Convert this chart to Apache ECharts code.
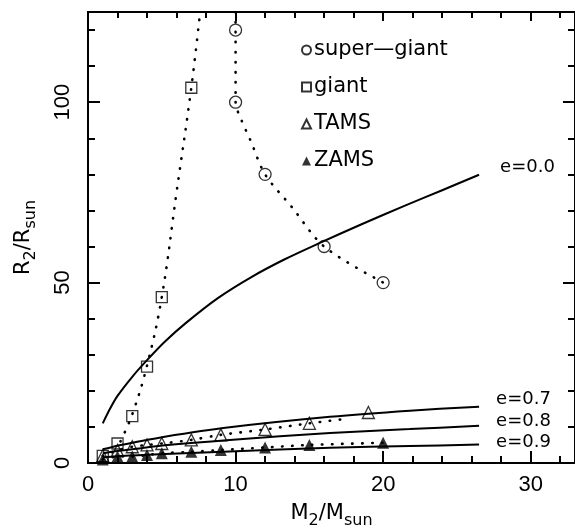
<!DOCTYPE html>
<html>
<head>
<meta charset="utf-8">
<script src="https://cdn.jsdelivr.net/npm/echarts@6/dist/echarts.min.js"></script>
<style>
html, body { margin: 0; padding: 0; background: #fff; }
#chart { width: 575px; height: 529px; }
</style>
</head>
<body>
<div id="chart"></div>
<script>
// observed stars [M2, R2]
var superGiant = [[10, 120], [10, 100], [12, 80], [16, 60], [20, 50]];
var giant = [[1, 2], [2, 5.4], [3, 13], [4, 26.7], [5, 46], [7, 104]];
var tams = [[1, 2], [2, 3.5], [3, 4.5], [4, 5], [5, 5.4], [7, 6.4], [9, 7.8], [12, 9.3], [15, 11], [19, 14]];
var zams = [[1, 1], [2, 1.8], [3, 1.8], [4, 2.2], [5, 2.7], [7, 3.1], [9, 3.6], [12, 4.3], [15, 5], [20, 5.6]];

// dotted guide curves
var superGiantFit = [[10, 125], [10, 120], [10, 100], [10.4, 95], [11, 89.5], [12, 80], [13.8, 71], [16, 60], [20, 50]];
var giantFit = [[2.2, 6], [3, 13.5], [4, 27], [5, 46], [6, 75], [7, 104], [7.6, 125]];
var tamsFit = [[1, 2], [2, 3.5], [3, 4.5], [4, 5], [5, 5.4], [7, 6.4], [9, 7.8], [12, 9.3], [15, 11], [17.2, 12.1]];

// Roche lobe curves for each eccentricity
var e00 = [[1, 11], [1.5, 15.1], [2, 18.6], [3, 23.9], [4, 28.5], [5.2, 33.6], [6.6, 38.7], [8.8, 45.7], [11.1, 51.6],
           [13.3, 56.4], [15.6, 60.8], [18.5, 66.1], [21.4, 71.2], [24, 75.6], [26.5, 79.9]];
var e07 = [[1, 3.8], [2, 4.8], [3, 5.6], [5.2, 7.3], [9.6, 9.9], [16.4, 12.8], [21.8, 14.5], [26.5, 15.6]];
var e08 = [[1, 2.7], [2, 3.3], [3, 3.8], [5.2, 4.9], [9.6, 6.4], [16.4, 8.3], [21.8, 9.4], [26.5, 10.3]];
var e09 = [[1, 1.6], [2, 1.9], [3, 2.1], [5.2, 2.5], [9.6, 3.2], [16.4, 4.2], [21.8, 4.7], [26.5, 5.1]];

var xMax = 33, yMax = 125;

var tickFont = 'Liberation Sans';
var textFont = 'DejaVu Sans';

function makeAxis(pos, max, interval, tickLen, withLabels, extra) {
  var a = {
    type: 'value', position: pos, min: 0, max: max, interval: interval,
    axisLine: { show: true, onZero: false, lineStyle: { color: '#000', width: 2 } },
    axisTick: { show: true, inside: true, length: tickLen, lineStyle: { color: '#000', width: 2 } },
    splitLine: { show: false },
    axisLabel: { show: false }
  };
  if (withLabels) {
    a.axisLabel = {
      show: true, showMaxLabel: false, color: '#000',
      fontFamily: tickFont, fontSize: 22
    };
  }
  return Object.assign(a, extra || {});
}

var sub = { fontFamily: textFont, fontSize: 16, color: '#000', padding: [10, 0, 0, 0], lineHeight: 16, verticalAlign: 'top' };
var main = { fontFamily: textFont, fontSize: 21, color: '#000', lineHeight: 24, verticalAlign: 'top' };

var xAxes = [
  makeAxis('bottom', xMax, 10, 12, true, {
    name: '{m|M}{s|2}{m|/M}{s|sun}', nameLocation: 'middle', nameGap: 40,
    nameTextStyle: { rich: { m: main, s: sub } }
  }),
  makeAxis('bottom', xMax, 2, 7, false),
  makeAxis('top', xMax, 10, 9, false),
  makeAxis('top', xMax, 2, 6, false)
];
xAxes[0].axisLabel.margin = 11;

var yAxes = [
  makeAxis('left', yMax, 50, 12, true, {
    name: '{m|R}{s|2}{m|/R}{s|sun}', nameLocation: 'middle', nameGap: 51, nameRotate: 90,
    nameTextStyle: { rich: { m: main, s: sub } }
  }),
  makeAxis('left', yMax, 10, 7, false),
  makeAxis('right', yMax, 50, 12, false),
  makeAxis('right', yMax, 10, 7, false)
];
yAxes[0].axisLabel.rotate = 90;
yAxes[0].axisLabel.margin = 14;

function solid(name, data, label, off) {
  return {
    name: name, type: 'line', data: data, smooth: 0.3, showSymbol: false, silent: true,
    lineStyle: { color: '#000', width: 2 },
    endLabel: {
      show: true, formatter: label, color: '#000', fontFamily: textFont, fontSize: 18,
      offset: off
    },
    z: 3
  };
}

function dotted(name, data, smooth) {
  return {
    name: name, type: 'line', data: data, smooth: smooth, showSymbol: false, silent: true,
    lineStyle: { color: '#000', width: 2.6, type: [0.5, 9.5], cap: 'round' },
    z: 2
  };
}

var openStyle = { color: 'rgba(0,0,0,0)', borderColor: '#000', borderWidth: 1.3 };

var option = {
  animation: false,
  backgroundColor: '#fff',
  grid: { left: 88, right: 0, top: 12, bottom: 66, containLabel: false, outerBoundsMode: 'none' },
  legend: {
    orient: 'vertical', left: 296, top: 34, itemWidth: 9, itemHeight: 9, itemGap: 15,
    data: ['super—giant', 'giant', 'TAMS', 'ZAMS'],
    textStyle: { fontFamily: textFont, fontSize: 21, color: '#000', lineHeight: 22, padding: [0, 0, 0, -2] },
    selectedMode: false
  },
  xAxis: xAxes,
  yAxis: yAxes,
  series: [
    solid('e00', e00, 'e=0.0', [13, -7]),
    solid('e07', e07, 'e=0.7', [9, -7]),
    solid('e08', e08, 'e=0.8', [9, -5]),
    solid('e09', e09, 'e=0.9', [9, -2]),
    dotted('sgFit', superGiantFit, 0.3),
    dotted('gFit', giantFit, 0.4),
    dotted('tFit', tamsFit, 0.3),
    dotted('zFit', zams, 0.3),
    { name: 'super—giant', type: 'scatter', data: superGiant, symbol: 'circle', symbolSize: 12, itemStyle: openStyle, z: 5 },
    { name: 'giant', type: 'scatter', data: giant, symbol: 'rect', symbolSize: 11, itemStyle: openStyle, z: 5 },
    { name: 'TAMS', type: 'scatter', data: tams, symbol: 'triangle', symbolSize: 12, itemStyle: openStyle, z: 5 },
    { name: 'ZAMS', type: 'scatter', data: zams, symbol: 'triangle', symbolSize: 12, itemStyle: { color: '#000' }, z: 5 }
  ]
};

var chart = echarts.init(document.getElementById('chart'), null, { renderer: 'canvas' });
chart.setOption(option);
</script>
</body>
</html>
